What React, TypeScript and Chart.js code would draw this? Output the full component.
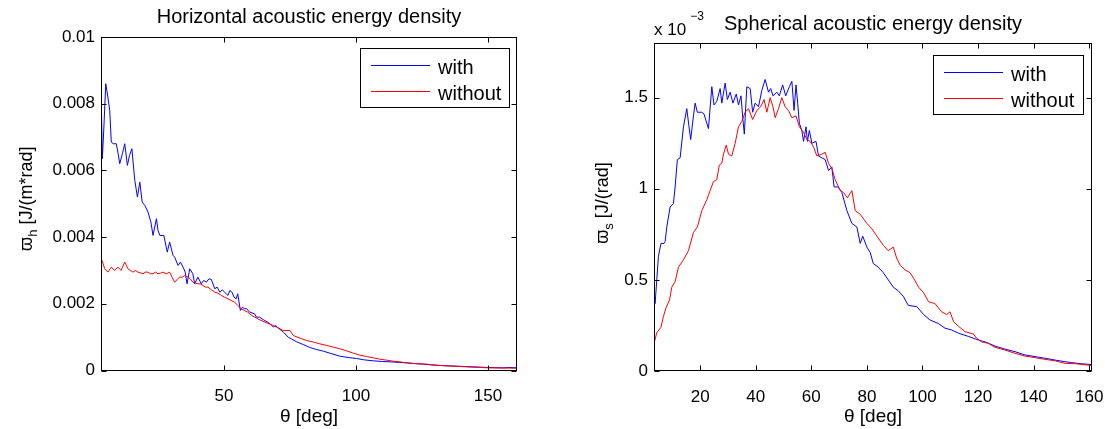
import React, { useEffect, useRef } from 'react';
import { Chart, registerables } from 'chart.js';

Chart.register(...registerables);

const FONT = "'Liberation Sans', Arial, Helvetica, sans-serif";

// ---------- Horizontal acoustic energy density (values in 1e-3 J/(m*rad)) ----------
const hThetaWith = [3.4, 3.9, 4.5, 5.2, 5.6, 6.0, 6.7, 7.3, 8.0, 9.2, 9.9, 10.5, 11.5, 12.4, 13.4, 14.2, 15.1, 16.2, 17.2, 18.1, 19.0, 20.0, 21.2, 22.3, 23.1, 24.4, 25.0, 25.7, 27.2, 28.5, 29.4, 30.7, 31.3, 32.6, 33.5, 34.5, 35.3, 36.0, 37.0, 38.2, 38.9, 40.1, 41.4, 42.3, 43.3, 44.3, 45.2, 46.5, 47.4, 48.4, 49.3, 50.2, 51.5, 52.2, 53.0, 53.8, 54.6, 55.2, 56.2, 57.0, 57.8, 58.5, 59.7, 61.6, 62.3, 63.5, 65.0, 66.5, 67.5, 68.7, 69.5, 71.2, 72.5, 74.3, 75.5, 77.5, 80.0, 82.5, 85.0, 87.6, 90.5, 93.9, 97.0, 100.2, 103.0, 106.5, 110.0, 112.9, 116.0, 119.2, 122.0, 125.5, 128.5, 131.8, 135.0, 138.1, 141.0, 144.4, 147.0, 150.0, 153.0, 156.0, 158.0, 161.0];
const hWith = [8.6, 6.35, 7.3, 8.6, 8.4, 8.2, 7.8, 6.85, 6.8, 6.8, 6.5, 6.2, 6.5, 6.8, 6.15, 6.45, 6.65, 5.7, 5.2, 5.65, 5.05, 4.95, 4.75, 4.45, 4.05, 4.55, 4.2, 4.05, 4.05, 3.55, 3.85, 3.45, 3.4, 3.15, 3.25, 3.1, 2.95, 2.6, 3.05, 2.9, 2.6, 2.8, 2.6, 2.7, 2.65, 2.75, 2.73, 2.45, 2.5, 2.35, 2.42, 2.35, 2.25, 2.4, 2.35, 2.2, 2.15, 2.3, 1.8, 1.9, 1.85, 1.86, 1.75, 1.7, 1.6, 1.6, 1.52, 1.45, 1.4, 1.3, 1.35, 1.23, 1.15, 1.0, 0.95, 0.86, 0.78, 0.69, 0.63, 0.58, 0.51, 0.43, 0.39, 0.36, 0.32, 0.29, 0.27, 0.26, 0.245, 0.23, 0.21, 0.19, 0.17, 0.15, 0.14, 0.13, 0.12, 0.11, 0.1, 0.09, 0.085, 0.08, 0.09, 0.08];

const hThetaWithout = [3.4, 3.8, 4.8, 6.0, 7.3, 8.5, 9.8, 11.0, 12.4, 13.6, 14.5, 15.5, 16.5, 17.4, 18.3, 19.3, 20.2, 21.2, 22.1, 23.1, 24.0, 25.0, 26.0, 26.9, 28.1, 29.4, 30.3, 31.3, 32.2, 33.2, 34.2, 35.1, 36.3, 37.2, 38.2, 39.1, 40.1, 41.0, 42.0, 43.0, 43.9, 45.2, 46.5, 47.7, 49.0, 50.2, 51.5, 52.7, 54.0, 55.2, 56.5, 57.7, 59.0, 60.5, 62.8, 65.5, 68.7, 70.5, 72.4, 75.0, 76.2, 78.5, 81.3, 84.0, 86.3, 89.0, 91.4, 94.0, 96.4, 99.0, 101.5, 104.0, 106.5, 109.0, 111.6, 114.0, 116.6, 119.0, 121.7, 124.0, 126.7, 130.0, 134.3, 138.0, 141.9, 146.0, 150.0, 155.0, 161.0];
const hWithout = [3.35, 3.3, 3.05, 2.95, 3.1, 3.0, 3.1, 3.0, 3.25, 3.05, 3.0, 2.95, 3.0, 2.95, 2.93, 2.9, 2.95, 2.95, 2.9, 2.9, 2.95, 2.9, 2.92, 2.95, 2.9, 2.95, 2.8, 2.65, 2.72, 2.8, 2.8, 2.85, 2.8, 2.75, 2.65, 2.62, 2.6, 2.6, 2.55, 2.5, 2.5, 2.42, 2.35, 2.32, 2.25, 2.2, 2.15, 2.1, 2.05, 1.95, 1.85, 1.8, 1.75, 1.65, 1.55, 1.45, 1.35, 1.28, 1.2, 1.2, 1.05, 0.98, 0.9, 0.85, 0.8, 0.75, 0.7, 0.65, 0.59, 0.52, 0.46, 0.42, 0.38, 0.34, 0.31, 0.28, 0.26, 0.23, 0.21, 0.2, 0.19, 0.16, 0.14, 0.125, 0.11, 0.095, 0.08, 0.075, 0.07];

// ---------- Spherical acoustic energy density (values in 1e-3 J/(rad)) ----------
const sThetaWith = [3.4, 3.8, 4.4, 5.0, 5.9, 7.0, 7.4, 8.0, 9.2, 10.4, 11.0, 11.8, 12.8, 14.0, 15.2, 16.0, 16.6, 17.6, 18.2, 19.0, 20.6, 21.4, 23.0, 24.2, 25.0, 26.0, 27.2, 27.8, 29.0, 29.8, 30.8, 31.8, 33.0, 33.8, 34.7, 35.4, 35.9, 36.8, 38.0, 38.9, 39.8, 41.0, 42.2, 43.4, 44.6, 45.4, 46.2, 47.6, 48.5, 49.7, 50.8, 52.1, 53.0, 53.8, 54.5, 55.1, 55.7, 56.6, 57.2, 58.1, 58.6, 59.3, 60.2, 61.7, 62.6, 63.8, 65.0, 66.2, 67.4, 68.2, 69.7, 71.0, 72.8, 74.6, 76.4, 77.6, 78.5, 80.0, 81.2, 82.3, 84.1, 85.9, 87.7, 89.5, 91.3, 93.1, 94.9, 98.0, 100.4, 102.7, 105.8, 108.1, 110.5, 113.0, 116.5, 120.1, 122.5, 126.1, 129.7, 133.3, 136.9, 140.5, 144.1, 147.7, 151.3, 153.7, 157.0, 161.0];
const sWith = [0.42, 0.37, 0.5, 0.63, 0.7, 0.7, 0.71, 0.79, 0.9, 0.92, 1.01, 1.16, 1.17, 1.34, 1.44, 1.34, 1.27, 1.4, 1.47, 1.42, 1.42, 1.41, 1.33, 1.56, 1.46, 1.48, 1.55, 1.47, 1.58, 1.49, 1.53, 1.47, 1.52, 1.46, 1.51, 1.38, 1.3, 1.56, 1.55, 1.42, 1.47, 1.45, 1.54, 1.6, 1.53, 1.55, 1.51, 1.53, 1.51, 1.57, 1.51, 1.56, 1.59, 1.43, 1.57, 1.47, 1.36, 1.32, 1.26, 1.34, 1.26, 1.32, 1.25, 1.26, 1.18, 1.17, 1.16, 1.1, 1.12, 1.01, 1.01, 0.98, 0.88, 0.81, 0.79, 0.7, 0.74, 0.68, 0.65, 0.59, 0.57, 0.54, 0.5, 0.46, 0.44, 0.41, 0.36, 0.353, 0.31, 0.28, 0.26, 0.235, 0.225, 0.207, 0.19, 0.17, 0.16, 0.137, 0.12, 0.106, 0.088, 0.079, 0.07, 0.06, 0.051, 0.046, 0.04, 0.035];

const sThetaWithout = [3.4, 4.4, 5.9, 6.8, 7.8, 9.0, 9.8, 11.0, 12.2, 14.0, 15.8, 17.6, 19.0, 20.6, 22.4, 23.6, 24.8, 26.0, 26.9, 27.8, 28.4, 29.4, 30.2, 31.4, 32.6, 33.8, 35.0, 36.2, 37.4, 38.9, 40.4, 41.8, 43.0, 44.0, 45.2, 46.2, 47.0, 48.2, 49.4, 50.6, 51.8, 53.0, 54.5, 55.7, 57.2, 58.4, 59.6, 60.8, 62.0, 63.8, 65.0, 66.2, 67.4, 68.6, 70.4, 71.6, 73.0, 74.6, 75.8, 77.6, 80.0, 81.8, 83.6, 85.9, 87.7, 89.5, 90.7, 92.0, 93.7, 95.5, 96.8, 98.6, 100.4, 102.2, 104.5, 106.9, 108.7, 109.9, 111.2, 113.0, 115.3, 118.3, 119.5, 121.3, 123.7, 126.1, 129.7, 133.3, 136.9, 140.5, 144.1, 147.7, 151.3, 155.0, 161.0];
const sWithout = [0.15, 0.21, 0.24, 0.3, 0.35, 0.39, 0.46, 0.49, 0.57, 0.61, 0.66, 0.76, 0.79, 0.88, 0.94, 0.99, 1.04, 1.05, 1.13, 1.14, 1.19, 1.24, 1.19, 1.18, 1.25, 1.34, 1.37, 1.42, 1.44, 1.38, 1.43, 1.45, 1.49, 1.42, 1.5, 1.45, 1.39, 1.44, 1.5, 1.45, 1.43, 1.39, 1.4, 1.34, 1.31, 1.27, 1.26, 1.23, 1.18, 1.19, 1.2, 1.14, 1.11, 1.05, 0.99, 0.98, 0.95, 0.99, 0.88, 0.86, 0.81, 0.78, 0.74, 0.69, 0.66, 0.68, 0.62, 0.58, 0.555, 0.54, 0.51, 0.46, 0.43, 0.38, 0.37, 0.325, 0.31, 0.325, 0.27, 0.245, 0.216, 0.203, 0.18, 0.16, 0.152, 0.13, 0.115, 0.097, 0.082, 0.073, 0.064, 0.056, 0.042, 0.04, 0.03];

// ---------- axes / labels ----------
const thetaMin = 3.4;
const thetaMax = 161;
const hXTicks = [50, 100, 150];
const hYTicks = [0, 2, 4, 6, 8, 10];
const sXTicks = [20, 40, 60, 80, 100, 120, 140, 160];
const sYTicks = [0, 0.5, 1, 1.5];
const seriesLabels = ['with', 'without'];
const seriesColors = ['rgb(0,0,255)', 'rgb(255,0,0)'];

function pts(t: number[], v: number[]) {
  return t.map((x, i) => ({ x, y: v[i] }));
}

type DecorCfg = {
  title: string;
  titleY: number;
  xLabel: string;
  xLabelY: number;
  yMain: string;
  ySub: string;
  yRest: string;
  yLabelX: number;
  yLabelShift: number;
  exponent: boolean;
  legendBox: [number, number, number, number];
  xTicks: number[];
  yTicks: number[];
};

function makeDecor(cfg: DecorCfg) {
  return {
    id: 'decor',
    afterDraw(chart: any) {
      const ctx: CanvasRenderingContext2D = chart.ctx;
      const { left, right, top, bottom } = chart.chartArea;
      const xs = chart.scales.x;
      const ys = chart.scales.y;
      ctx.save();
      ctx.strokeStyle = '#000';
      ctx.lineWidth = 1;
      const L = Math.round(left) + 0.5;
      const R = Math.round(right) - 0.5;
      const T = Math.round(top) + 0.5;
      const B = Math.round(bottom) - 0.5;
      ctx.strokeRect(L, T, R - L, B - T);
      const tl = 5;
      ctx.beginPath();
      cfg.xTicks.forEach((v) => {
        const p = Math.round(xs.getPixelForValue(v)) + 0.5;
        ctx.moveTo(p, B);
        ctx.lineTo(p, B - tl);
        ctx.moveTo(p, T);
        ctx.lineTo(p, T + tl);
      });
      cfg.yTicks.forEach((v) => {
        const p = Math.round(ys.getPixelForValue(v)) + 0.5;
        ctx.moveTo(L, p);
        ctx.lineTo(L + tl, p);
        ctx.moveTo(R, p);
        ctx.lineTo(R - tl, p);
      });
      ctx.stroke();

      const cx = (left + right) / 2;
      ctx.fillStyle = '#000';
      // title
      ctx.font = `20px ${FONT}`;
      ctx.textAlign = 'center';
      ctx.textBaseline = 'alphabetic';
      ctx.fillText(cfg.title, cx, cfg.titleY);
      // x label
      ctx.font = `19px ${FONT}`;
      ctx.fillText(cfg.xLabel, cx, cfg.xLabelY);

      // y label (rotated, with subscript)
      ctx.save();
      const cy = (top + bottom) / 2 + cfg.yLabelShift;
      ctx.translate(cfg.yLabelX, cy);
      ctx.rotate(-Math.PI / 2);
      ctx.textAlign = 'left';
      const mainFont = `18px ${FONT}`;
      const subFont = `13px ${FONT}`;
      ctx.font = mainFont;
      const w1 = ctx.measureText(cfg.yMain).width;
      const w3 = ctx.measureText(cfg.yRest).width;
      ctx.font = subFont;
      const w2 = ctx.measureText(cfg.ySub).width;
      let x0 = -(w1 + w2 + w3) / 2;
      ctx.font = mainFont;
      ctx.fillText(cfg.yMain, x0, 0);
      x0 += w1;
      ctx.font = subFont;
      ctx.fillText(cfg.ySub, x0, 5);
      x0 += w2;
      ctx.font = mainFont;
      ctx.fillText(cfg.yRest, x0, 0);
      ctx.restore();

      // exponent
      if (cfg.exponent) {
        ctx.textAlign = 'left';
        ctx.font = `17px ${FONT}`;
        const ex = left;
        ctx.fillText('x 10', ex, 35);
        const ew = ctx.measureText('x 10').width;
        ctx.font = `12px ${FONT}`;
        ctx.fillText('\u22123', ex + ew + 4, 20);
      }

      // legend
      const [bx, by, bw, bh] = cfg.legendBox;
      ctx.fillStyle = '#fff';
      ctx.fillRect(bx, by, bw, bh);
      ctx.strokeStyle = '#000';
      ctx.strokeRect(bx + 0.5, by + 0.5, bw - 1, bh - 1);
      const rows = [17, 43];
      seriesLabels.forEach((lab, i) => {
        const ry = by + rows[i] + 0.5;
        ctx.strokeStyle = seriesColors[i];
        ctx.beginPath();
        ctx.moveTo(bx + 11, ry);
        ctx.lineTo(bx + 70, ry);
        ctx.stroke();
        ctx.fillStyle = '#000';
        ctx.font = `20px ${FONT}`;
        ctx.textAlign = 'left';
        ctx.fillText(lab, bx + 78, ry + 8);
      });
      ctx.restore();
    },
  };
}

type PanelProps = {
  width: number;
  padding: { left: number; top: number; right: number; bottom: number };
  yWidth: number;
  yMax: number;
  xTicks: number[];
  yTicks: number[];
  yFormat: (v: number) => string;
  data: { x: number; y: number }[][];
  decor: DecorCfg;
};

function Panel(props: PanelProps) {
  const ref = useRef<HTMLCanvasElement | null>(null);
  useEffect(() => {
    const canvas = ref.current;
    if (!canvas) return;
    const chart = new Chart(canvas, {
      type: 'line',
      data: {
        datasets: props.data.map((d, i) => ({
          label: seriesLabels[i],
          data: d,
          borderColor: seriesColors[i],
          backgroundColor: seriesColors[i],
          borderWidth: 1,
          pointRadius: 0,
          tension: 0,
          fill: false,
          order: 2 - i,
        })),
      },
      options: {
        animation: false,
        responsive: false,
        devicePixelRatio: 1,
        layout: { padding: props.padding },
        plugins: {
          legend: { display: false },
          title: { display: false },
          tooltip: { enabled: false },
        },
        scales: {
          x: {
            type: 'linear',
            min: thetaMin,
            max: thetaMax,
            grid: { display: false, drawTicks: false },
            border: { display: false },
            ticks: {
              autoSkip: false,
              maxRotation: 0,
              padding: 16,
              color: '#000',
              font: { family: FONT, size: 17 },
            },
            afterBuildTicks: (s: any) => {
              s.ticks = props.xTicks.map((v) => ({ value: v }));
            },
            afterFit: (s: any) => {
              s.height = 40;
              s.paddingLeft = 0;
              s.paddingRight = 0;
            },
          },
          y: {
            type: 'linear',
            min: 0,
            max: props.yMax,
            grid: { display: false, drawTicks: false },
            border: { display: false },
            ticks: {
              padding: 6,
              color: '#000',
              font: { family: FONT, size: 17 },
              callback: (v: any) => props.yFormat(Number(v)),
            },
            afterBuildTicks: (s: any) => {
              s.ticks = props.yTicks.map((v) => ({ value: v }));
            },
            afterFit: (s: any) => {
              s.width = props.yWidth;
              s.paddingTop = 0;
              s.paddingBottom = 0;
            },
          },
        },
      },
      plugins: [makeDecor(props.decor)],
    } as any);
    return () => chart.destroy();
  }, []);
  return <canvas ref={ref} width={props.width} height={429} style={{ display: 'block', width: props.width, height: 429 }} />;
}

export default function App() {
  return (
    <div style={{ position: 'absolute', left: 0, top: 0, width: 1105, height: 429, background: '#fff', overflow: 'hidden' }}>
      <div style={{ position: 'absolute', left: 0, top: 0 }}>
        <Panel
          width={552}
          padding={{ left: 0, top: 37, right: 35, bottom: 18.5 }}
          yWidth={101}
          yMax={10}
          xTicks={hXTicks}
          yTicks={hYTicks}
          yFormat={(v) => String(+(v / 1000).toFixed(4))}
          data={[pts(hThetaWith, hWith), pts(hThetaWithout, hWithout)]}
          decor={{
            title: 'Horizontal acoustic energy density',
            titleY: 23,
            xLabel: '\u03b8 [deg]',
            xLabelY: 422,
            yMain: '\u03d6',
            ySub: 'h',
            yRest: ' [J/(m*rad]',
            yLabelX: 32,
            yLabelShift: -5,
            exponent: false,
            legendBox: [360, 48, 150, 60],
            xTicks: hXTicks,
            yTicks: hYTicks,
          }}
        />
      </div>
      <div style={{ position: 'absolute', left: 552, top: 0 }}>
        <Panel
          width={553}
          padding={{ left: 0, top: 43, right: 13, bottom: 18 }}
          yWidth={102}
          yMax={1.8}
          xTicks={sXTicks}
          yTicks={sYTicks}
          yFormat={(v) => String(v)}
          data={[pts(sThetaWith, sWith), pts(sThetaWithout, sWithout)]}
          decor={{
            title: 'Spherical acoustic energy density',
            titleY: 30,
            xLabel: '\u03b8 [deg]',
            xLabelY: 422,
            yMain: '\u03d6',
            ySub: 's',
            yRest: ' [J/(rad]',
            yLabelX: 56,
            yLabelShift: -4,
            exponent: true,
            legendBox: [381, 55, 151, 60],
            xTicks: sXTicks,
            yTicks: sYTicks,
          }}
        />
      </div>
    </div>
  );
}
